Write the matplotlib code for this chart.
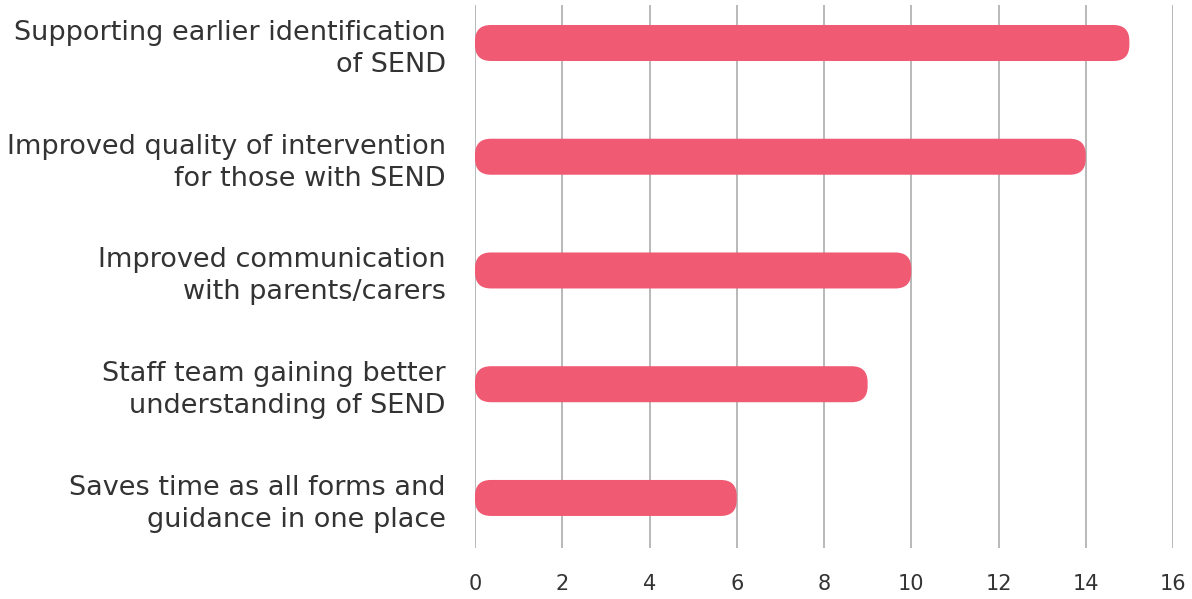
import matplotlib
matplotlib.use("Agg")
import matplotlib.pyplot as plt
from matplotlib.patches import FancyBboxPatch

categories = [
    "Supporting earlier identification\nof SEND",
    "Improved quality of intervention\nfor those with SEND",
    "Improved communication\nwith parents/carers",
    "Staff team gaining better\nunderstanding of SEND",
    "Saves time as all forms and\nguidance in one place",
]
values = [15, 14, 10, 9, 6]
xticks = [0, 2, 4, 6, 8, 10, 12, 14, 16]

W, H, DPI = 1192, 599, 100
BAR_COLOR = "#f05a73"
TEXT_COLOR = "#333333"
GRID_COLOR = "#b3b3b3"
FONT = ["DejaVu Sans"]

fig = plt.figure(figsize=(W / DPI, H / DPI), dpi=DPI)
left, right, top, bottom = 475, 1173, 5, 548
ax = fig.add_axes([left / W, 1 - bottom / H, (right - left) / W, (bottom - top) / H])

ax.set_xlim(0, 16)
ax.set_ylim(len(categories) - 1 + 0.44, -0.334)

# aspect for rounded corners (data units per pixel)
x_per_px = 16 / (right - left)
y_per_px = (len(categories) - 1 + 0.44 + 0.334) / (bottom - top)
aspect = y_per_px / x_per_px

bar_h = 36 * y_per_px
radius = 16 * x_per_px
for i, v in enumerate(values):
    patch = FancyBboxPatch(
        (0, i - bar_h / 2), v, bar_h,
        boxstyle=f"round,pad=0,rounding_size={radius}",
        mutation_aspect=aspect,
        facecolor=BAR_COLOR, edgecolor="none", zorder=3,
    )
    ax.add_patch(patch)

ax.set_xticks(xticks)
ax.set_xticklabels([str(t) for t in xticks], fontsize=15, color=TEXT_COLOR, family=FONT)
ax.set_yticks(range(len(categories)))
ax.set_yticklabels(categories, fontsize=19.5, color=TEXT_COLOR, family=FONT,
                   ha="right", multialignment="right", linespacing=1.3)
ax.tick_params(axis="y", length=0, pad=21)
ax.tick_params(axis="x", length=0, pad=19)

ax.grid(axis="x", color=GRID_COLOR, linewidth=1.3, zorder=0)
ax.set_axisbelow(True)
for s in ax.spines.values():
    s.set_visible(False)

fig.savefig("out.png", dpi=DPI)
